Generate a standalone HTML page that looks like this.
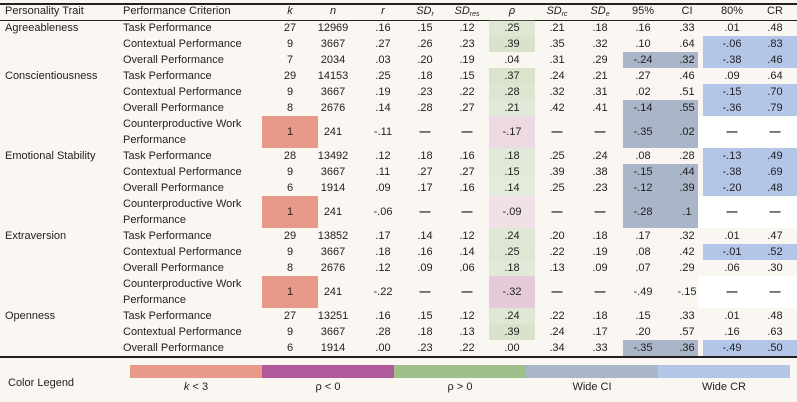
<!DOCTYPE html>
<html><head><meta charset="utf-8">
<style>
body{margin:0;background:#faf7f3;font-family:"Liberation Sans",sans-serif;font-size:11px;color:#222;}
#wrap{position:relative;width:797px;height:402px;overflow:hidden;background:#faf7f3;}
.c{position:absolute;white-space:nowrap;line-height:16px;}
.bg{position:absolute;}
.line{position:absolute;left:0;width:797px;background:#222;}
i{font-style:italic;}
sub{font-size:7px;vertical-align:-2px;}
.ov{text-decoration:overline;}
</style></head><body>
<div id="wrap"></div>
<script>
const traits=["Agreeableness","Conscientiousness","Emotional Stability","Extraversion","Openness"];
const criteria=["Task Performance","Contextual Performance","Overall Performance","Counterproductive Work Performance"];
const rowTrait=[0,0,0,1,1,1,1,2,2,2,2,3,3,3,3,4,4,4];
const rowCrit=[0,1,2,0,1,2,3,0,1,2,3,0,1,2,3,0,1,2];
const kVals=[27,9,7,29,9,8,1,28,9,6,1,29,9,8,1,27,9,6];
const nVals=[12969,3667,2034,14153,3667,2676,241,13492,3667,1914,241,13852,3667,2676,241,13251,3667,1914];
const rVals=[".16",".27",".03",".25",".19",".14","-.11",".12",".11",".09","-.06",".17",".18",".12","-.22",".16",".28",".00"];
const sdrVals=[".15",".26",".20",".18",".23",".28","—",".18",".27",".17","—",".14",".16",".09","—",".15",".18",".23"];
const sdresVals=[".12",".23",".19",".15",".22",".27","—",".16",".27",".16","—",".12",".14",".06","—",".12",".13",".22"];
const rhoVals=[".25",".39",".04",".37",".28",".21","-.17",".18",".15",".14","-.09",".24",".25",".18","-.32",".24",".39",".00"];
const sdrcVals=[".21",".35",".31",".24",".32",".42","—",".25",".39",".25","—",".20",".22",".13","—",".22",".24",".34"];
const sdeVals=[".18",".32",".29",".21",".31",".41","—",".24",".38",".23","—",".18",".19",".09","—",".18",".17",".33"];
const ciLo=[".16",".10","-.24",".27",".02","-.14","-.35",".08","-.15","-.12","-.28",".17",".08",".07","-.49",".15",".20","-.35"];
const ciHi=[".33",".64",".32",".46",".51",".55",".02",".28",".44",".39",".1",".32",".42",".29","-.15",".33",".57",".36"];
const crLo=[".01","-.06","-.38",".09","-.15","-.36","—","-.13","-.38","-.20","—",".01","-.01",".06","—",".01",".16","-.49"];
const crHi=[".48",".83",".46",".64",".70",".79","—",".49",".69",".48","—",".47",".52",".30","—",".48",".63",".50"];
const legendLabels=["k < 3","ρ < 0","ρ > 0","Wide CI","Wide CR"];
const legendColors=["#e9998a","#b05a9c","#9fc08a","#aab5c7","#b3c6e8"];

const W=document.getElementById('wrap');
function el(cls,css,html,name){const d=document.createElement('div');d.className=cls;d.style.cssText=css;if(html!==undefined)d.innerHTML=html;


W.appendChild(d);return d;}
el('line','top:3px;height:1.5px;','', 'top-rule');
el('line','top:20px;height:1px;','', 'header-rule');
const hdr=[["Personality Trait",5,'l'],["Performance Criterion",123,'l'],["<i>k</i>",290,'m'],["<i>n</i>",333,'m'],["<i class='ov'>r</i>",383,'m'],
["<i>SD<sub>r</sub></i>",425,'m'],["<i>SD<sub>res</sub></i>",467,'m'],["<i class='ov'>ρ</i>",512,'m'],["<i>SD<sub>rc</sub></i>",557,'m'],["<i>SD<sub>e</sub></i>",600,'m'],
["95%",643,'m'],["CI",687,'m'],["80%",732,'m'],["CR",775,'m']];
hdr.forEach((h,i)=>{el('c','top:3px;'+(h[2]=='l'?'left:'+h[1]+'px;':'left:'+(h[1]-30)+'px;width:60px;text-align:center;'),h[0],'header-'+i);});
function num(v){return parseFloat(v.replace('—','NaN'));}
let y=20;
rowTrait.forEach((t,i)=>{
  const tall=rowCrit[i]==3; const h=tall?32:16;
  const mid=y+h/2-8;
  const rho=num(rhoVals[i]);
  if(kVals[i]<3) el('bg',`left:262px;top:${y}px;width:56px;height:${h}px;background:#e9998a;`,undefined,'k-flag-'+i);
  if(rho>0.1){const a=Math.min(1,rho/0.45);el('bg',`left:489px;top:${y}px;width:46px;height:${h}px;background:rgba(159,192,138,${0.15+0.25*a});`,undefined,'rho-pos-'+i);}
  if(rho<0){const a=Math.min(1,-rho/0.35);el('bg',`left:489px;top:${y}px;width:46px;height:${h}px;background:rgba(176,90,156,${0.08+0.22*a});`,undefined,'rho-neg-'+i);}
  if(num(ciLo[i])<0&&num(ciHi[i])>0) el('bg',`left:623px;top:${y}px;width:75px;height:${h}px;background:#aab5c7;`,undefined,'wide-ci-'+i);
  if(tall) el('bg',`left:698px;top:${y}px;width:99px;height:${h}px;background:#fff;`,undefined,'cr-blank-'+i);
  else if(num(crLo[i])<0&&num(crHi[i])>0) el('bg',`left:703px;top:${y}px;width:94px;height:${h}px;background:#b3c6e8;`,undefined,'wide-cr-'+i);
  if(i==0||rowTrait[i-1]!=t) el('c',`left:5px;top:${y}px;`,traits[t],'trait-'+i);
  el('c',`left:123px;top:${y}px;`,tall?'Counterproductive Work<br>Performance':criteria[rowCrit[i]],'criterion-'+i);
  const cols=[[kVals[i],290],[nVals[i],333],[rVals[i],383],[sdrVals[i],425],[sdresVals[i],467],[rhoVals[i],512],[sdrcVals[i],557],[sdeVals[i],600],[ciLo[i],643],[ciHi[i],687],[crLo[i],732],[crHi[i],775]];
  cols.forEach((c,j)=>el('c',`left:${c[1]-25}px;width:50px;text-align:center;top:${mid}px;`+(c[0]==='—'?'font-weight:bold;color:#111;':''),c[0],'cell-'+i+'-'+j));
  y+=h;
});
el('line',`top:${y}px;height:1.5px;`,'','bottom-rule');
el('c','left:8px;top:375px;','Color Legend','legend-title');
legendLabels.forEach((l,i)=>{
  const x=130+i*132;
  el('bg',`left:${x}px;top:365px;width:132px;height:13px;background:${legendColors[i]};`,undefined,'legend-swatch-'+i);
  el('c',`left:${x}px;top:379px;width:132px;text-align:center;`,i==0?'<i>k</i> &lt; 3':l,'legend-label-'+i);
});
</script>
</body></html>
